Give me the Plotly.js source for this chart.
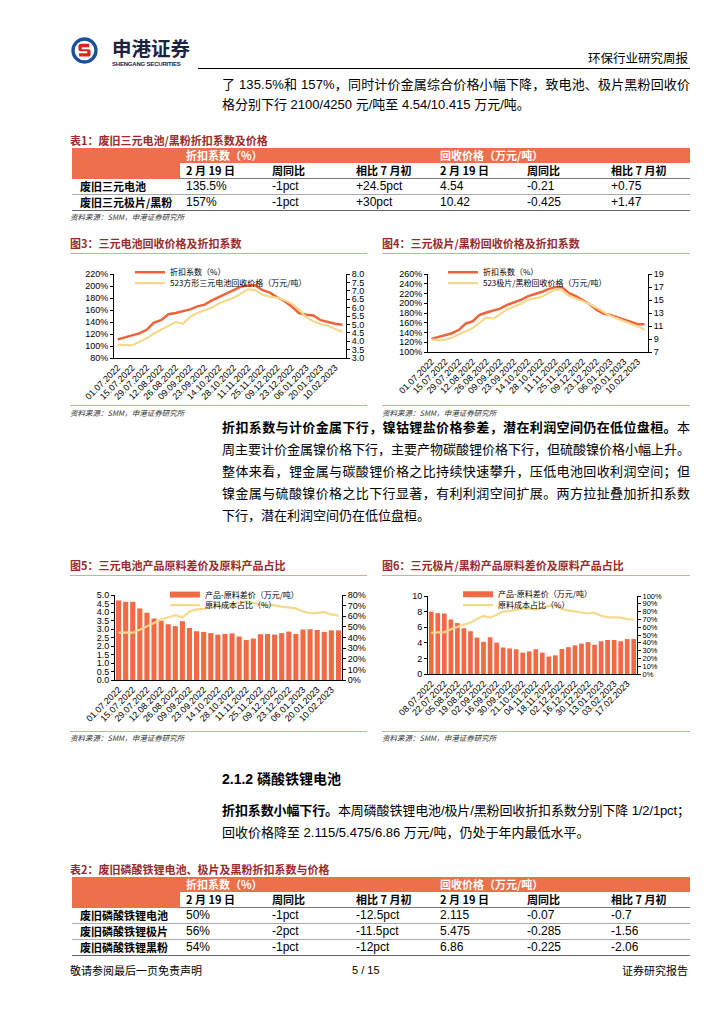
<!DOCTYPE html>
<html><head><meta charset="utf-8">
<script src="https://cdn.plot.ly/plotly-3.0.1.min.js"></script>
<style>
body{margin:0;background:#fff;width:724px;height:1024px;position:relative;overflow:hidden;font-family:"Liberation Sans","Noto Sans CJK SC",sans-serif;color:#000}
.abs{position:absolute}
.fit{position:absolute;left:222px;font-size:13px;line-height:18px;white-space:nowrap}
.b{font-weight:bold}
.ttl{position:absolute;font-family:"Noto Sans CJK SC",sans-serif;font-size:11px;font-weight:bold;color:#9b2b2b;line-height:14px;white-space:nowrap}
.src{position:absolute;font-family:"Noto Sans CJK SC",sans-serif;font-size:7.5px;font-style:italic;color:#333;line-height:10px;white-space:nowrap}
.hr{position:absolute;height:1px;background:#eaa38e}
.chart{position:absolute;width:300px;height:160px}
table.tb{border-collapse:collapse;position:absolute;left:72px;width:618px;table-layout:fixed;font-size:12px}
table.tb td{padding:0 0 0 6px;height:15px;line-height:15px;white-space:nowrap;overflow:visible}
table.tb td.nm{padding-left:8px;font-family:"Noto Sans CJK SC",sans-serif;font-weight:bold;font-size:11px}
table.tb tr.h1 td{background:#ee6f4b;color:#fff;font-family:"Noto Sans CJK SC",sans-serif;font-weight:bold;font-size:11px}
table.tb tr.h2 td{font-family:"Noto Sans CJK SC",sans-serif;font-weight:bold;font-size:11px;border-bottom:1px solid #777}
table.tb td.orange{background:#ee6f4b}
table.tb tr.d td{border-bottom:1px solid #aaa}
table.tb tr.d.lastrow td{border-bottom:1px solid #666}
</style>
</head><body>

<!-- header -->
<svg class="abs" style="left:71px;top:37px" width="27" height="27" viewBox="0 0 40 40">
<circle cx="20" cy="20" r="17" fill="#fff" stroke="#1d4f9c" stroke-width="5"/>
<path d="M27 10 H15 a4 4 0 0 0 -4 4 v4 a3 3 0 0 0 3 3 h10 v3 H12 v5 h13 a4 4 0 0 0 4 -4 v-4 a3 3 0 0 0 -3 -3 H16 v-3 h11 Z" fill="#d7261e"/>
</svg>
<div class="abs b" style="left:112px;top:37px;font-family:'Noto Sans CJK SC';font-size:19.5px;line-height:22px;color:#1c2340">申港证券</div>
<div class="abs" style="left:112px;top:61px;font-size:6px;line-height:7px;color:#1c2340;font-weight:bold;letter-spacing:-0.2px">SHENGANG SECURITIES</div>
<div class="abs" style="left:588px;top:50px;font-family:'Noto Sans CJK SC';font-size:12.5px;line-height:16px">环保行业研究周报</div>
<div class="abs" style="left:198px;top:68px;width:492px;height:1px;background:#000"></div>

<!-- paragraph 1 -->
<div class="fit" style="top:76px" data-w="468">了 135.5%和 157%，同时计价金属综合价格小幅下降，致电池、极片黑粉回收价</div>
<div class="fit" style="top:96px">格分别下行 2100/4250 元/吨至 4.54/10.415 万元/吨。</div>

<!-- table 1 -->
<div class="ttl" style="left:70px;top:133px">表1：废旧三元电池/黑粉折扣系数及价格</div>
<table class="tb" id="t1" style="top:148px"></table>
<div class="src" style="left:70px;top:212px">资料来源：SMM，申港证券研究所</div>

<!-- charts 3/4 -->
<div class="ttl" style="left:70px;top:236px">图3：三元电池回收价格及折扣系数</div>
<div class="ttl" style="left:382px;top:236px">图4：三元极片/黑粉回收价格及折扣系数</div>
<div class="hr" style="left:70px;top:253px;width:297px"></div>
<div class="hr" style="left:382px;top:253px;width:308px"></div>
<div class="chart" id="c3" style="left:70px;top:246px"></div>
<div class="chart" id="c4" style="left:380px;top:246px"></div>
<div class="hr" style="left:70px;top:405px;width:297px"></div>
<div class="hr" style="left:382px;top:405px;width:308px"></div>
<div class="src" style="left:70px;top:408px">资料来源：SMM，申港证券研究所</div>
<div class="src" style="left:382px;top:408px">资料来源：SMM，申港证券研究所</div>

<!-- paragraph 2 -->
<div class="fit" style="top:419px" data-w="468"><span class="b">折扣系数与计价金属下行，镍钴锂盐价格参差，潜在利润空间仍在低位盘桓。</span>本</div>
<div class="fit" style="top:441px" data-w="468">周主要计价金属镍价格下行，主要产物碳酸锂价格下行，但硫酸镍价格小幅上升。</div>
<div class="fit" style="top:463px" data-w="468">整体来看，锂金属与碳酸锂价格之比持续快速攀升，压低电池回收利润空间；但</div>
<div class="fit" style="top:485px" data-w="468">镍金属与硫酸镍价格之比下行显著，有利利润空间扩展。两方拉扯叠加折扣系数</div>
<div class="fit" style="top:507px">下行，潜在利润空间仍在低位盘桓。</div>

<!-- charts 5/6 -->
<div class="ttl" style="left:70px;top:558px">图5：三元电池产品原料差价及原料产品占比</div>
<div class="ttl" style="left:382px;top:558px">图6：三元极片/黑粉产品原料差价及原料产品占比</div>
<div class="hr" style="left:70px;top:575px;width:297px"></div>
<div class="hr" style="left:382px;top:575px;width:308px"></div>
<div class="chart" id="c5" style="left:70px;top:568px"></div>
<div class="chart" id="c6" style="left:380px;top:568px"></div>
<div class="hr" style="left:70px;top:731px;width:297px"></div>
<div class="hr" style="left:382px;top:731px;width:308px"></div>
<div class="src" style="left:70px;top:733px">资料来源：SMM，申港证券研究所</div>
<div class="src" style="left:382px;top:733px">资料来源：SMM，申港证券研究所</div>

<!-- section 2.1.2 -->
<div class="abs b" style="left:222px;top:770px;font-size:14px;line-height:18px;font-family:'Liberation Sans','Noto Sans CJK SC'">2.1.2 磷酸铁锂电池</div>
<div class="fit" style="top:802px" data-w="468"><span class="b">折扣系数小幅下行。</span>本周磷酸铁锂电池/极片/黑粉回收折扣系数分别下降 1/2/1pct；</div>
<div class="fit" style="top:824px">回收价格降至 2.115/5.475/6.86 万元/吨，仍处于年内最低水平。</div>

<!-- table 2 -->
<div class="ttl" style="left:70px;top:862px">表2：废旧磷酸铁锂电池、极片及黑粉折扣系数与价格</div>
<table class="tb" id="t2" style="top:877px"></table>

<!-- footer -->
<div class="abs" style="left:70px;top:962px;font-family:'Noto Sans CJK SC';font-size:11px;line-height:16px">敬请参阅最后一页免责声明</div>
<div class="abs" style="left:352px;top:962px;font-size:11px;line-height:16px">5 / 15</div>
<div class="abs" style="left:622px;top:962px;font-family:'Noto Sans CJK SC';font-size:11px;line-height:16px">证券研究报告</div>

<script>
// ---------- table data ----------
const tHeadGroups = ["折扣系数（%）", "回收价格（万元/吨）"];
const tHeadCols = ["2 月 19 日", "周同比", "相比 7 月初", "2 月 19 日", "周同比", "相比 7 月初"];

const t1Names = ["废旧三元电池", "废旧三元极片/黑粉"];
const t1CoefNow = ["135.5%", "157%"];
const t1CoefWoW = ["-1pct", "-1pct"];
const t1CoefVsJul = ["+24.5pct", "+30pct"];
const t1PriceNow = ["4.54", "10.42"];
const t1PriceWoW = ["-0.21", "-0.425"];
const t1PriceVsJul = ["+0.75", "+1.47"];

const t2Names = ["废旧磷酸铁锂电池", "废旧磷酸铁锂极片", "废旧磷酸铁锂黑粉"];
const t2CoefNow = ["50%", "56%", "54%"];
const t2CoefWoW = ["-1pct", "-2pct", "-1pct"];
const t2CoefVsJul = ["-12.5pct", "-11.5pct", "-12pct"];
const t2PriceNow = ["2.115", "5.475", "6.86"];
const t2PriceWoW = ["-0.07", "-0.285", "-0.225"];
const t2PriceVsJul = ["-0.7", "-1.56", "-2.06"];

// ---------- chart data ----------
const datesA = ["01.07.2022","08.07.2022","15.07.2022","22.07.2022","29.07.2022","05.08.2022","12.08.2022","19.08.2022","26.08.2022","02.09.2022","09.09.2022","16.09.2022","23.09.2022","30.09.2022","14.10.2022","21.10.2022","28.10.2022","04.11.2022","11.11.2022","18.11.2022","25.11.2022","02.12.2022","09.12.2022","16.12.2022","23.12.2022","30.12.2022","06.01.2023","13.01.2023","20.01.2023","03.02.2023","10.02.2023","17.02.2023"];
const datesB = ["08.07.2022","15.07.2022","22.07.2022","29.07.2022","05.08.2022","12.08.2022","19.08.2022","26.08.2022","02.09.2022","09.09.2022","16.09.2022","23.09.2022","30.09.2022","14.10.2022","21.10.2022","28.10.2022","04.11.2022","11.11.2022","18.11.2022","25.11.2022","02.12.2022","09.12.2022","16.12.2022","23.12.2022","30.12.2022","06.01.2023","13.01.2023","20.01.2023","03.02.2023","10.02.2023","17.02.2023","24.02.2023"];

// Fig 3
const ncmBatteryCoef = [111,114,117,121,127,139,143,153,155,158,161,166,169,176,182,187,194,199,201,201,193,189,181,175,166,155,152,151,143,140,137,135.5];
const ncmBatteryPrice = [3.79,3.79,3.75,3.97,4.17,4.46,4.69,4.92,5.14,5.03,5.45,5.68,5.82,6.00,6.26,6.40,6.58,6.83,7.10,7.03,6.76,6.65,6.58,6.45,6.24,5.90,5.43,5.18,5.01,4.92,4.74,4.54];
// Fig 4
const ncmPowderCoef = [127,130.5,134,138.5,145.5,158.5,163,176,181,185,189,196.5,201,207,214,218,223,229,233,233,220.5,214.5,206,198,187,179,176,171,166,161,157,157];
const ncmPowderPrice = [8.87,8.87,8.87,9.24,9.66,10.18,10.69,11.44,12.32,12.14,12.79,13.58,13.96,14.38,15.03,15.27,15.45,16.06,16.62,16.48,15.64,15.22,14.85,14.38,13.82,13.21,12.56,12.14,11.72,11.39,10.92,10.42];
// Fig 5
const ncmBatterySpread = [4.68,4.6,4.6,4.21,3.96,3.62,3.49,3.28,3.17,3.46,3.06,2.87,2.83,2.76,2.67,2.71,2.74,2.56,2.35,2.44,2.69,2.71,2.67,2.76,2.85,2.71,2.97,2.99,2.94,2.83,2.92,2.92];
const ncmBatteryCostShare = [44.5,44.5,44.5,47.3,50.8,54,57,59,61,58.8,64.5,66.5,67,68.5,70,70.3,71,72.5,74,72.5,70.8,70.8,70.3,69,68,67.4,64.5,63,63,64,61.7,60.5];
// Fig 6
const ncmPowderSpread = [7.99,7.8,7.76,6.99,6.53,5.87,5.48,4.67,4.13,4.71,4.02,3.4,3.28,3.17,2.74,2.9,3.17,2.74,2.24,2.39,3.2,3.44,3.67,3.9,4.09,3.75,4.2,4.36,4.36,4.2,4.48,4.48];
const ncmPowderCostShare = [52.9,52.9,53.7,57.5,60.6,63.3,65.6,70.7,74.5,72.2,76,80,80.7,81.9,83.8,83.8,82.6,84.6,87.3,87.3,83,81.5,80.3,78.8,77.6,78.4,74.5,73,72.2,72.2,70.3,69.9];

// legend names
const legCoef = "折扣系数（%）";
const legPrice3 = "523方形三元电池回收价格（万元/吨）";
const legPrice4 = "523极片/黑粉回收价格（万元/吨）";
const legSpread = "产品-原料差价（万元/吨）";
const legShare = "原料成本占比（%）";

// ---------- build tables ----------
function buildTable(id, names, cols) {
  const t = document.getElementById(id);
  const widths = [108,86,84,84,87,84,85];
  let h = '<colgroup>' + widths.map(w => '<col style="width:' + w + 'px">').join('') + '</colgroup>';
  h += '<tr class="h1"><td rowspan="2" class="orange"></td><td colspan="3">' + tHeadGroups[0] + '</td><td colspan="3">' + tHeadGroups[1] + '</td></tr>';
  h += '<tr class="h2">' + tHeadCols.map(c => '<td>' + c + '</td>').join('') + '</tr>';
  names.forEach((n, i) => {
    const cls = 'd' + (i === names.length - 1 ? ' lastrow' : '');
    h += '<tr class="' + cls + '"><td class="nm">' + n + '</td>' + cols.map(c => '<td>' + c[i] + '</td>').join('') + '</tr>';
  });
  t.innerHTML = h;
}
buildTable('t1', t1Names, [t1CoefNow, t1CoefWoW, t1CoefVsJul, t1PriceNow, t1PriceWoW, t1PriceVsJul]);
buildTable('t2', t2Names, [t2CoefNow, t2CoefWoW, t2CoefVsJul, t2PriceNow, t2PriceWoW, t2PriceVsJul]);

// ---------- fit justified lines ----------
document.querySelectorAll('.fit[data-w]').forEach(el => {
  const target = +el.dataset.w;
  const n = el.textContent.length;
  const w = el.getBoundingClientRect().width;
  el.style.letterSpacing = ((target - w) / (n - 1)) + 'px';
});

// ---------- charts ----------
const RED = '#f0633a', YEL = '#f5d98c', BAR = '#f06b45';
const tickFont = {family: 'Liberation Sans, Arial, sans-serif', size: 9, color: '#000'};
const legFont = {family: 'Noto Sans CJK SC, sans-serif', size: 8, color: '#000'};
function xAxis(cats) {
  return {type: 'category', range: [-0.5, cats.length - 0.5], tickangle: -45,
    tickvals: cats.filter((c, i) => i % 2 === 0), ticktext: cats.filter((c, i) => i % 2 === 0),
    showline: true, linecolor: '#000', linewidth: 1, ticks: '', showgrid: false, zeroline: false,
    tickfont: tickFont, fixedrange: true};
}
function yAxis(range, dtick, fmt, suffix, side, fsize) {
  const a = {range: range, dtick: dtick, tick0: range[0], tickformat: fmt, ticksuffix: suffix,
    showline: true, linecolor: '#000', linewidth: 1, ticks: 'outside', ticklen: 3, tickcolor: '#000',
    showgrid: false, zeroline: false, tickfont: Object.assign({}, tickFont, fsize ? {size: fsize} : {}), fixedrange: true};
  if (side === 'right') { a.overlaying = 'y'; a.side = 'right'; }
  return a;
}
function leg(x, y) {
  return {x: x, y: y, xanchor: 'left', yanchor: 'middle', bgcolor: 'rgba(0,0,0,0)',
    font: legFont, tracegroupgap: 0, itemwidth: 30};
}
function layout(cats, margin, legX, legY1, legY2, y1, y2) {
  return {width: 300, height: 160, margin: margin,
    paper_bgcolor: 'rgba(0,0,0,0)', plot_bgcolor: 'rgba(0,0,0,0)',
    font: tickFont, showlegend: true, bargap: 0.28,
    legend: leg(legX, legY1), legend2: leg(legX, legY2),
    xaxis: xAxis(cats), yaxis: y1, yaxis2: y2};
}
const cfg = {displayModeBar: false, staticPlot: true};

Plotly.newPlot('c3', [
  {x: datesA, y: ncmBatteryCoef, name: legCoef, type: 'scatter', mode: 'lines', line: {color: RED, width: 2.5}, legend: 'legend'},
  {x: datesA, y: ncmBatteryPrice, name: legPrice3, type: 'scatter', mode: 'lines', yaxis: 'y2', line: {color: YEL, width: 2.2}, legend: 'legend2'}
], layout(datesA, {l: 44, r: 24, t: 20, b: 48}, 0.069, 1.022, 0.891,
  yAxis([80, 220], 20, 'd', '%'), yAxis([3, 8], 0.5, '.1f', '', 'right')), cfg);

Plotly.newPlot('c4', [
  {x: datesA, y: ncmPowderCoef, name: legCoef, type: 'scatter', mode: 'lines', line: {color: RED, width: 2.5}, legend: 'legend'},
  {x: datesA, y: ncmPowderPrice, name: legPrice4, type: 'scatter', mode: 'lines', yaxis: 'y2', line: {color: YEL, width: 2.2}, legend: 'legend2'}
], layout(datesA, {l: 48, r: 32, t: 20, b: 54}, 0.068, 1.023, 0.884,
  yAxis([100, 260], 20, 'd', '%'), yAxis([7, 19], 2, 'd', '', 'right')), cfg);

// bar legend drawn as a wide, thin swatch (legend-only entry, no data marks)
Plotly.newPlot('c5', [
  {x: datesA, y: ncmBatterySpread, name: legSpread, type: 'bar', marker: {color: BAR}, showlegend: false},
  {x: datesA, y: ncmBatteryCostShare, name: legShare, type: 'scatter', mode: 'lines', yaxis: 'y2', line: {color: YEL, width: 2.2}, legend: 'legend2'},
  {x: [datesA[0]], y: [null], name: legSpread, type: 'scatter', mode: 'lines', line: {color: BAR, width: 6}, legend: 'legend', hoverinfo: 'skip'}
], layout(datesA, {l: 45, r: 28, t: 19, b: 48}, 0.22, 1.005, 0.882,
  yAxis([0, 5], 0.5, '.1f', ''), yAxis([0, 80], 10, 'd', '%', 'right')), cfg);

Plotly.newPlot('c6', [
  {x: datesB, y: ncmPowderSpread, name: legSpread, type: 'bar', marker: {color: BAR}, showlegend: false},
  {x: datesB, y: ncmPowderCostShare, name: legShare, type: 'scatter', mode: 'lines', yaxis: 'y2', line: {color: YEL, width: 2.2}, legend: 'legend2'},
  {x: [datesB[0]], y: [null], name: legSpread, type: 'scatter', mode: 'lines', line: {color: BAR, width: 6}, legend: 'legend', hoverinfo: 'skip'}
], layout(datesB, {l: 48, r: 43, t: 20, b: 54}, 0.144, 1.023, 0.884,
  yAxis([0, 10], 2, 'd', ''), yAxis([0, 100], 10, 'd', '%', 'right', 7.5)), cfg);
</script>
</body></html>
